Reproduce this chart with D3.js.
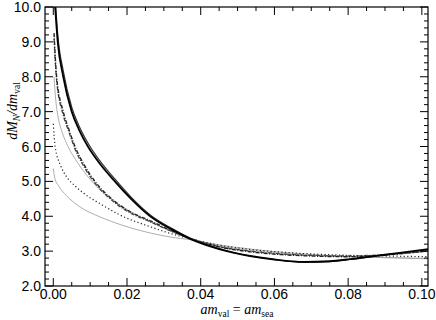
<!DOCTYPE html>
<html>
<head>
<meta charset="utf-8">
<script src="https://cdn.jsdelivr.net/npm/d3@7"></script>
<style>
  body { margin: 0; background: #fff; }
  .tick-label { font-family: "Liberation Sans", Arial, sans-serif; }
  .title { font-family: "Liberation Serif", "Times New Roman", serif; }
</style>
</head>
<body>
<div id="chart"></div>
<script>
// values
const solidX  = [0.0005, 0.0012, 0.0027, 0.005, 0.0069, 0.0094, 0.0127, 0.0167, 0.0211, 0.0263, 0.032, 0.037, 0.045, 0.0534, 0.06, 0.068, 0.075, 0.0805, 0.088, 0.094, 0.102];
const solidY1 = [10.0, 9.0, 8.0, 7.0, 6.5, 6.0, 5.5, 5.0, 4.5, 4.0, 3.63, 3.36, 3.06, 2.86, 2.76, 2.69, 2.71, 2.77, 2.87, 2.95, 3.06];
const solidY2 = [10.3, 9.22, 8.17, 7.13, 6.61, 6.1, 5.58, 5.07, 4.55, 4.04, 3.66, 3.38, 3.07, 2.86, 2.76, 2.68, 2.70, 2.76, 2.86, 2.94, 3.05];

const dashX  = [0.0002, 0.0009, 0.0027, 0.0043, 0.0057, 0.0085, 0.0113, 0.0155, 0.0203, 0.0263, 0.032, 0.037, 0.045, 0.0534, 0.062, 0.07, 0.08, 0.09, 0.102];
const dashY1 = [9.25, 8.0, 7.0, 6.47, 6.05, 5.45, 5.0, 4.53, 4.16, 3.87, 3.59, 3.37, 3.12, 2.98, 2.9, 2.86, 2.84, 2.89, 3.01];
const dashY2 = [9.1, 7.9, 6.9, 6.4, 5.98, 5.39, 4.95, 4.49, 4.13, 3.84, 3.57, 3.36, 3.13, 3.0, 2.92, 2.88, 2.86, 2.9, 3.0];

const grayX = [0.0002, 0.0007, 0.0013, 0.0025, 0.004, 0.0067, 0.0095, 0.0127, 0.0175, 0.0263, 0.032, 0.037, 0.045, 0.0534, 0.065, 0.08, 0.09, 0.102];
const grayY = [8.0, 7.3, 6.85, 6.38, 6.0, 5.52, 5.12, 4.76, 4.36, 3.84, 3.57, 3.37, 3.15, 3.02, 2.91, 2.84, 2.82, 2.79];

const dotX = [0.0, 0.0005, 0.002, 0.0035, 0.006, 0.009, 0.0127, 0.018, 0.0263, 0.032, 0.037, 0.045, 0.0534, 0.065, 0.08, 0.09, 0.102];
const dotY = [6.65, 6.0, 5.45, 5.15, 4.86, 4.6, 4.36, 4.04, 3.70, 3.5, 3.36, 3.17, 3.05, 2.95, 2.88, 2.86, 2.84];

const lowX = [0.0, 0.0004, 0.0014, 0.0035, 0.0068, 0.0127, 0.0158, 0.0263, 0.032, 0.037, 0.045, 0.0534, 0.065, 0.08, 0.09, 0.102];
const lowY = [5.37, 5.1, 4.88, 4.6, 4.3, 3.98, 3.85, 3.52, 3.4, 3.33, 3.18, 3.06, 2.94, 2.85, 2.81, 2.78];

const xTicks = [0, 0.02, 0.04, 0.06, 0.08, 0.10];
const yTicks = [2, 3, 4, 5, 6, 7, 8, 9, 10];

const width = 436, height = 320;
const pL = 45, pR = 428, pT = 7, pB = 286;

const svg = d3.select("#chart").append("svg")
    .attr("width", width).attr("height", height);

const x = d3.scaleLinear().domain([-0.00225, 0.10167]).range([pL, pR]);
const y = d3.scaleLinear().domain([2, 10]).range([pB, pT]);

svg.append("clipPath").attr("id", "clip")
  .append("rect").attr("x", pL).attr("y", pT).attr("width", pR - pL).attr("height", pB - pT);

const plot = svg.append("g").attr("clip-path", "url(#clip)");

const line = d3.line().x(d => x(d[0])).y(d => y(d[1])).curve(d3.curveMonotoneX);
const zip = (xs, ys) => xs.map((v, i) => [v, ys[i]]);

// series styles
const series = [
  { pts: zip(lowX, lowY), stroke: "#999", w: 0.8, dash: null },
  { pts: zip(grayX, grayY), stroke: "#999", w: 0.8, dash: null },
  { pts: zip(dotX, dotY), stroke: "#222", w: 1.2, dash: "1.2,2.4" },
  { pts: zip(dashX, dashY2), stroke: "#444", w: 1.3, dash: "4,1.5,1,1.5" },
  { pts: zip(dashX, dashY1), stroke: "#222", w: 1.4, dash: "4,1.5,1,1.5" },
  { pts: zip(solidX, solidY2), stroke: "#333", w: 1.2, dash: null },
  { pts: zip(solidX, solidY1), stroke: "#000", w: 1.8, dash: null }
];

plot.selectAll("path.series").data(series).enter().append("path")
    .attr("class", "series")
    .attr("fill", "none")
    .attr("stroke", d => d.stroke)
    .attr("stroke-width", d => d.w)
    .attr("stroke-dasharray", d => d.dash)
    .attr("d", d => line(d.pts));

// axes: ticks pointing inward on all four sides
const axes = svg.append("g").attr("stroke", "#000").attr("stroke-width", 1);
const xMinor = d3.range(0, 0.1001, 0.005);
const yMinor = d3.range(2, 10.001, 0.2);

xMinor.forEach(v => {
  const major = xTicks.some(t => Math.abs(t - v) < 1e-6);
  const len = major ? 8 : 4;
  axes.append("line").attr("x1", x(v)).attr("x2", x(v)).attr("y1", pB).attr("y2", pB - len);
  axes.append("line").attr("x1", x(v)).attr("x2", x(v)).attr("y1", pT).attr("y2", pT + len);
});
yMinor.forEach(v => {
  const major = yTicks.some(t => Math.abs(t - v) < 1e-6);
  const len = major ? 8 : 4;
  axes.append("line").attr("x1", pL).attr("x2", pL + len).attr("y1", y(v)).attr("y2", y(v));
  axes.append("line").attr("x1", pR).attr("x2", pR - len).attr("y1", y(v)).attr("y2", y(v));
});

svg.append("rect").attr("x", pL).attr("y", pT).attr("width", pR - pL).attr("height", pB - pT)
    .attr("fill", "none").attr("stroke", "#000").attr("stroke-width", 1.2);

svg.append("g").selectAll("text").data(xTicks).enter().append("text")
    .attr("class", "tick-label")
    .attr("x", d => x(d)).attr("y", 298.5)
    .attr("text-anchor", "middle").attr("font-size", 14)
    .text(d => d3.format(".2f")(d));

svg.append("g").selectAll("text").data(yTicks).enter().append("text")
    .attr("class", "tick-label")
    .attr("x", 41).attr("y", d => y(d) + 5)
    .attr("text-anchor", "end").attr("font-size", 14)
    .text(d => d3.format(".1f")(d));

// axis titles
const xt = svg.append("text").attr("class", "title").attr("x", 237).attr("y", 314)
    .attr("text-anchor", "middle").attr("font-size", 14);
xt.append("tspan").attr("font-style", "italic").text("am");
xt.append("tspan").attr("font-size", 9.5).attr("dy", 3).text("val");
xt.append("tspan").attr("dy", -3).text(" = ");
xt.append("tspan").attr("font-style", "italic").text("am");
xt.append("tspan").attr("font-size", 9.5).attr("dy", 3).text("sea");

const yt = svg.append("text").attr("class", "title").attr("transform", "translate(17,111) rotate(-90)")
    .attr("text-anchor", "middle").attr("font-size", 14);
yt.append("tspan").attr("font-style", "italic").text("dM");
yt.append("tspan").attr("font-style", "italic").attr("font-size", 9.5).attr("dy", 3).text("N");
yt.append("tspan").attr("font-style", "italic").attr("dy", -3).text("/dm");
yt.append("tspan").attr("font-size", 9.5).attr("dy", 3).text("val");
</script>
</body>
</html>
